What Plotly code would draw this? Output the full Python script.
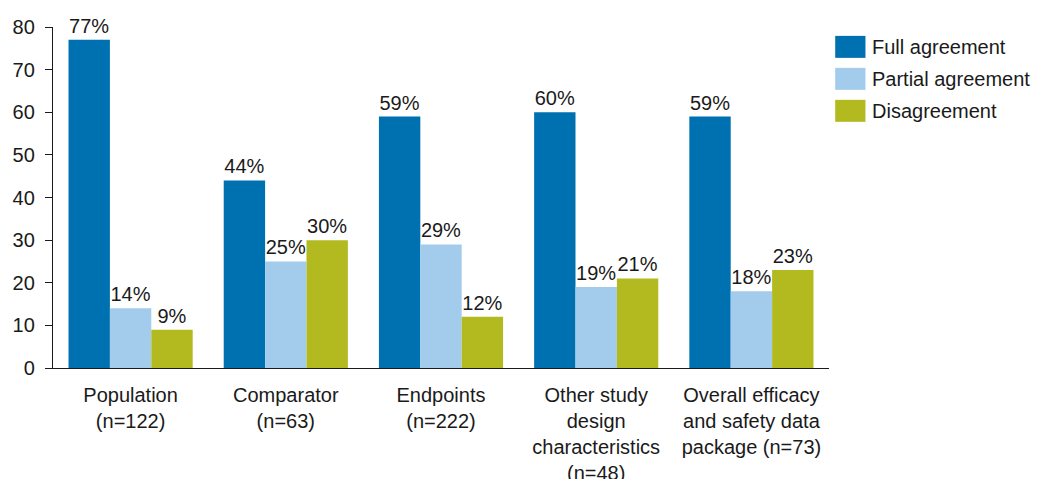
import plotly.graph_objects as go

categories = [
    "Population<br>(n=122)",
    "Comparator<br>(n=63)",
    "Endpoints<br>(n=222)",
    "Other study<br>design<br>characteristics<br>(n=48)",
    "Overall efficacy<br>and safety data<br>package (n=73)",
]
series_names = ["Full agreement", "Partial agreement", "Disagreement"]
full_agreement = [77, 44, 59, 60, 59]
partial_agreement = [14, 25, 29, 19, 18]
disagreement = [9, 30, 12, 21, 23]
colors = ["#0071B0", "#A3CCEC", "#B2BA1F"]

FONT = "Liberation Sans, Arial, sans-serif"
INK = "#1a1a1a"

fig = go.Figure()
for name, vals, col in zip(series_names, [full_agreement, partial_agreement, disagreement], colors):
    fig.add_trace(go.Bar(
        x=categories, y=vals, name=name, marker=dict(color=col, line=dict(width=0)),
        texttemplate="%{y}%", textposition="outside",
        textfont=dict(family=FONT, size=20, color=INK),
        cliponaxis=False, showlegend=False,
    ))

# Custom legend with large swatches
for i, (name, col) in enumerate(zip(series_names, colors)):
    y0 = 0.974 - i * 0.0938
    fig.add_shape(type="rect", xref="paper", yref="paper",
                  x0=1.008, x1=1.047, y0=y0 - 0.0645, y1=y0,
                  fillcolor=col, line=dict(width=0))
    fig.add_annotation(xref="paper", yref="paper", x=1.053, y=y0 - 0.032,
                       text=name, showarrow=False, xanchor="left", yanchor="middle",
                       font=dict(family=FONT, size=20, color=INK))

fig.update_layout(
    width=1045, height=479,
    margin=dict(l=53, r=216, t=27, b=111),
    plot_bgcolor="white", paper_bgcolor="white",
    barmode="group", bargap=0.2, bargroupgap=0,
    font=dict(family=FONT, size=20, color=INK),
)
fig.update_yaxes(range=[0, 80], dtick=10, showgrid=False, zeroline=False,
                 showline=True, linecolor=INK, linewidth=1.3,
                 ticks="outside", ticklen=7, tickcolor=INK, automargin=False,
                 ticklabelstandoff=6,
                 tickfont=dict(family=FONT, size=20, color=INK))
fig.update_xaxes(showgrid=False, showline=True, linecolor=INK, linewidth=1.3,
                 ticks="", automargin=False, ticklabelstandoff=9,
                 tickfont=dict(family=FONT, size=20, color=INK))

fig.write_html("out.html")
